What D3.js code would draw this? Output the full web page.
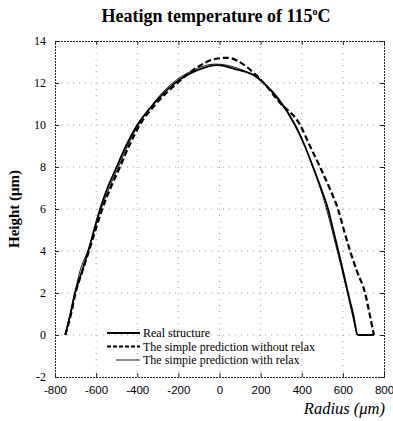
<!DOCTYPE html>
<html>
<head>
<meta charset="utf-8">
<script src="https://cdn.jsdelivr.net/npm/d3@7"></script>
<style>
  body { margin: 0; background: #fff; }
  svg { display: block; }
</style>
</head>
<body>
<div id="chart"></div>
<script>
// tick values
const xTicks = [-800, -600, -400, -200, 0, 200, 400, 600, 800];
const yTicks = [-2, 0, 2, 4, 6, 8, 10, 12, 14];

// Real structure
const realX = [-750, -725, -703, -670, -638, -610, -581, -545, -500, -455, -400, -320, -216, -110, -10, 80, 180, 215, 290, 367, 415, 455, 493, 528, 553, 578, 602, 625, 650, 673, 750];
const realY = [0, 1, 2, 3, 4, 5, 6, 7, 8, 9, 10, 11, 12, 12.6, 12.85, 12.65, 12.3, 12.0, 11.2, 10, 9, 8, 7, 6, 5, 4, 3, 2, 1, 0, 0];

// The simple prediction without relax
const noRelaxX = [-750, -722, -700, -668, -635, -603, -570, -530, -484, -440, -388, -310, -205, -100, -20, 40, 114, 175, 215, 290, 392, 440, 489, 535, 576, 605, 635, 670, 708, 730, 751];
const noRelaxY = [0, 1, 2, 3, 4, 5, 6, 7, 8, 9, 10, 11, 12, 12.8, 13.15, 13.2, 12.9, 12.4, 12, 11.1, 10, 9, 8, 7, 6, 5, 4, 3, 2, 1, 0];

// The simple prediction with relax
const relaxX = [-750, -714, -680, -637, -590, -545, -492, -428, -340, -240, -130, -20, 90, 200, 300, 380, 450, 515, 565, 615, 668];
const relaxY = [0, 1.5, 3.0, 4.1, 5.6, 6.8, 8.0, 9.4, 10.8, 11.9, 12.6, 12.9, 12.7, 12.1, 11, 9.8, 8.1, 6.2, 4.3, 2.3, 0];

const series = [
  {name: "Real structure", xs: realX, ys: realY, width: 1.8, dash: null},
  {name: "The simple prediction without relax", xs: noRelaxX, ys: noRelaxY, width: 2.2, dash: "6,3"},
  {name: "The simpie prediction with relax", xs: relaxX, ys: relaxY, width: 0.9, dash: null}
];

const W = 393, H = 421;
const margin = {top: 41, right: 9, bottom: 44, left: 55};
const width = W - margin.left - margin.right,
      height = H - margin.top - margin.bottom;

const svg = d3.select("#chart").append("svg")
    .attr("width", W)
    .attr("height", H)
    .style("font-family", "'Liberation Serif', serif");

const g = svg.append("g")
    .attr("transform", `translate(${margin.left},${margin.top})`);

const x = d3.scaleLinear().domain([-800, 800]).range([0, width]);
const y = d3.scaleLinear().domain([-2, 14]).range([height, 0]);

//grid
g.append("g")
    .selectAll("line")
    .data(xTicks.slice(1, -1))
    .join("line")
    .attr("x1", d => x(d)).attr("x2", d => x(d))
    .attr("y1", 0).attr("y2", height)
    .attr("stroke", "#888")
    .attr("stroke-width", 0.8)
    .attr("stroke-dasharray", "1,5");

g.append("g")
    .selectAll("line")
    .data(yTicks.slice(1, -1))
    .join("line")
    .attr("x1", 0).attr("x2", width)
    .attr("y1", d => y(d)).attr("y2", d => y(d))
    .attr("stroke", "#888")
    .attr("stroke-width", 0.8)
    .attr("stroke-dasharray", "1,5");

//axes with inward ticks, plain hyphen minus
const fmt = d => String(d);
const axBottom = g.append("g")
    .attr("transform", `translate(0,${height})`)
    .call(d3.axisBottom(x).tickValues(xTicks).tickSize(-4).tickPadding(9).tickFormat(fmt));
const axTop = g.append("g")
    .call(d3.axisTop(x).tickValues(xTicks).tickSize(-4).tickFormat(""));
const axLeft = g.append("g")
    .call(d3.axisLeft(y).tickValues(yTicks).tickSize(-4).tickPadding(9).tickFormat(fmt));
const axRight = g.append("g")
    .attr("transform", `translate(${width},0)`)
    .call(d3.axisRight(y).tickValues(yTicks).tickSize(-4).tickFormat(""));

[axBottom, axTop, axLeft, axRight].forEach(a => {
    a.select(".domain")
        .attr("stroke", "#222")
        .attr("stroke-dasharray", "2,1");
    a.selectAll(".tick line").attr("stroke", "#222");
});

axBottom.selectAll("text")
    .attr("font-family", "'Liberation Sans', sans-serif")
    .attr("font-size", 11.5)
    .attr("fill", "#000");
axLeft.selectAll("text")
    .attr("font-family", "'Liberation Serif', serif")
    .attr("font-size", 12)
    .attr("fill", "#000");

//curves
const lineGen = d3.line()
    .x(d => x(d[0]))
    .y(d => y(d[1]))
    .curve(d3.curveMonotoneX);

series.forEach(s => {
    g.append("path")
        .datum(s.xs.map((v, i) => [v, s.ys[i]]))
        .attr("fill", "none")
        .attr("stroke", "#000")
        .attr("stroke-width", s.width)
        .attr("stroke-dasharray", s.dash)
        .attr("d", lineGen);
});

//legend
const legend = svg.append("g").attr("transform", "translate(107,333)");
series.forEach((s, i) => {
    const row = legend.append("g").attr("transform", `translate(0,${i * 13.5})`);
    row.append("line")
        .attr("x1", i === 2 ? 9 : 0).attr("x2", 33)
        .attr("stroke", "#000")
        .attr("stroke-width", s.width)
        .attr("stroke-dasharray", s.dash ? "4,2" : null);
    row.append("text")
        .attr("x", 36)
        .attr("y", 4)
        .attr("font-size", 12)
        .text(s.name);
});

//title
const title = svg.append("text")
    .attr("x", 216)
    .attr("y", 22)
    .attr("text-anchor", "middle")
    .attr("font-size", 18)
    .attr("font-weight", "bold")
    .text("Heatign temperature of 115");
title.append("tspan")
    .attr("font-size", 10)
    .attr("dy", -7)
    .text("o");
title.append("tspan")
    .attr("dy", 7)
    .text("C");

//y axis label
svg.append("text")
    .attr("transform", `translate(19,${margin.top + height / 2}) rotate(-90)`)
    .attr("text-anchor", "middle")
    .attr("font-size", 15)
    .attr("font-weight", "bold")
    .text("Height (μm)");

//x axis label
svg.append("text")
    .attr("x", 385)
    .attr("y", 414)
    .attr("text-anchor", "end")
    .attr("font-size", 16.5)
    .attr("font-style", "italic")
    .text("Radius (μm)");
</script>
</body>
</html>
